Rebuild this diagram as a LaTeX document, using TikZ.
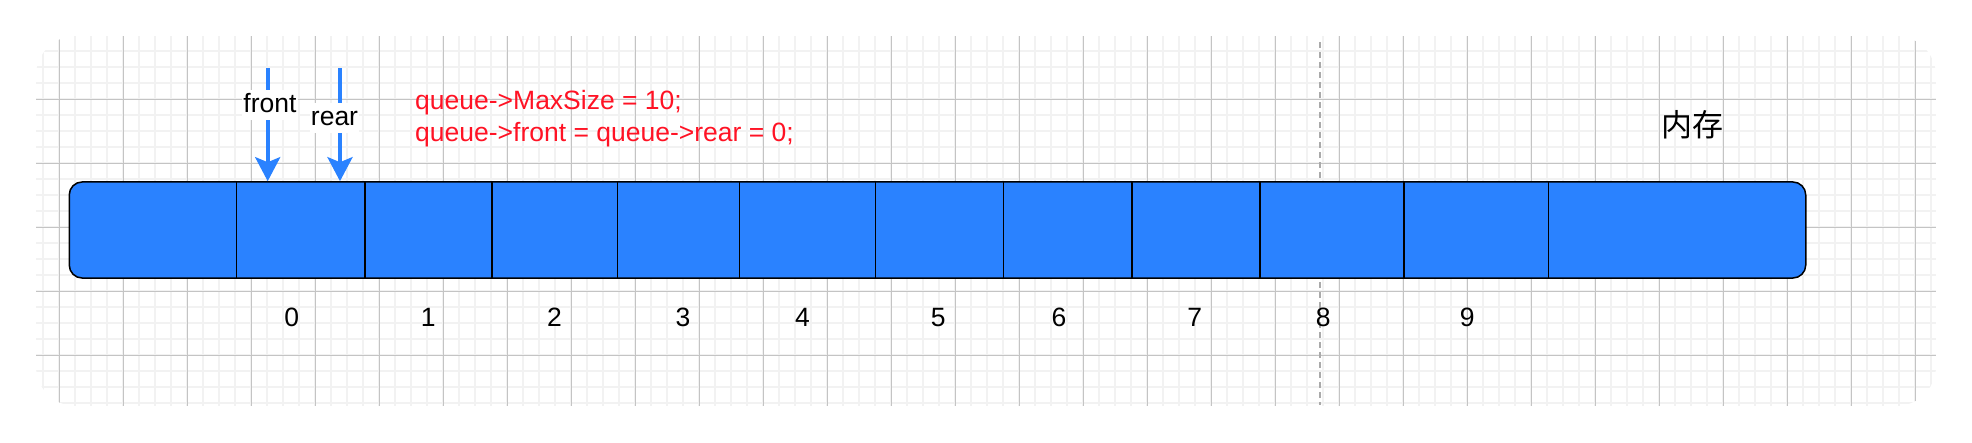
\documentclass[tikz,border=0pt]{standalone}
\usepackage{fontspec}
\setmainfont{Liberation Sans}
\newfontfamily\cjk{Noto Sans CJK SC}
\usetikzlibrary{arrows.meta}
\definecolor{cellblue}{RGB}{42,130,255}
\definecolor{gridmajor}{RGB}{196,196,196}
\definecolor{gridminor}{RGB}{242,242,242}
\definecolor{guide}{RGB}{170,170,170}
\definecolor{codered}{RGB}{255,18,36}
\begin{document}
\begin{tikzpicture}[x=1pt,y=-1pt,
  lbl/.style={font=\fontsize{26.5}{31.7}\selectfont, inner sep=0pt, anchor=base},
  ptr/.style={draw=cellblue, line width=4pt, -{Stealth[length=24pt,width=25pt,inset=5pt]}},
  ptrlabel/.style={lbl, fill=white, inner xsep=1pt, inner ysep=2.5pt, text height=20pt, text depth=5pt},
  code/.style={lbl, anchor=base west, text=codered},
  cellbox/.style={minimum height=96.1pt, inner sep=0pt, anchor=north west},
  divider/.style={draw=black, line width=1.5pt},
  minorline/.style={draw=gridminor, line width=2pt},
  majorline/.style={draw=gridmajor, line width=1pt}]
\useasboundingbox (0,0) rectangle (1972,442);
% background grid
\begin{scope}
\clip[rounded corners=40pt] (36,36) rectangle (1936,406);
\foreach \x in {43.3,59.3,...,1936} \draw[minorline] (\x,36) -- (\x,406);
\foreach \y in {51.3,67.3,...,406} \draw[minorline] (36,\y) -- (1936,\y);
\foreach \x in {59.3,123.3,...,1936} \draw[majorline] (\x,36) -- (\x,406);
\foreach \y in {99.3,163.3,...,406} \draw[majorline] (36,\y) -- (1936,\y);
\end{scope}
% dashed guide
\coordinate (gtop) at (1320,42);
\coordinate (gbot) at (1320,405);
\draw[guide, line width=1.5pt, dash pattern=on 6pt off 4pt] (gtop) -- (gbot);
% memory strip
\node[draw=black, line width=1.5pt, fill=cellblue, rounded corners=13pt,
      minimum width=1736.5pt, minimum height=96.1pt, inner sep=0pt, anchor=north west]
      (mem) at (68.5,181.2) {};
\foreach \x/\w/\i in {68.5/168.2/0, 236.7/128.3/1, 365/126.8/2, 491.8/125.7/3,
    617.5/122/4, 739.5/135.9/5, 875.4/128.2/6, 1003.6/128.4/7, 1132/128.2/8,
    1260.2/143.8/9, 1404/144.7/10, 1548.7/256.3/11}
  \node[cellbox, minimum width=\w pt] (c\i) at (\x,181.2) {};
\foreach \i in {1,...,11}
  \draw[divider] (c\i.north west) -- (c\i.south west);
% index labels
\foreach \x/\t in {291.7/0, 428.3/1, 554.6/2, 683/3, 802.4/4, 938.2/5,
    1059/6, 1194.8/7, 1323.3/8, 1467.3/9}
  \node[lbl] (idx\t) at (\x,326.5) {\t};
% pointers
\coordinate (ftail) at (267.7,68);
\coordinate (rtail) at (340,68);
\draw[ptr] (ftail) -- (ftail |- mem.north);
\draw[ptr] (rtail) -- (rtail |- mem.north);
\node[ptrlabel] (flabel) at (270,112.3) {front};
\node[ptrlabel] (rlabel) at (334.5,125.7) {rear};
% code text
\node[code] (code1) at (415,109.3) {queue->MaxSize = 10;};
\node[code] (code2) at (415,141) {queue->front = queue->rear = 0;};
% memory label
\node[font=\cjk\fontsize{31}{36}\selectfont, inner sep=0pt] (memlabel) at (1692.7,124.7) {内存};
\end{tikzpicture}
\end{document}
